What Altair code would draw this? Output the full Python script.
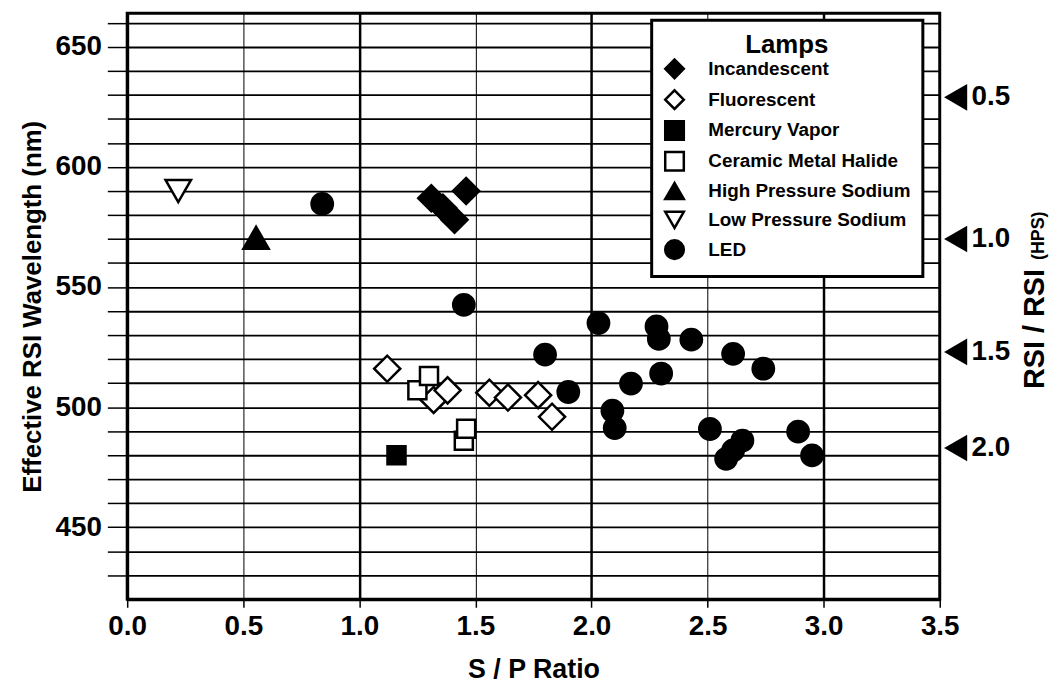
import altair as alt
import pandas as pd

FONT = "Liberation Sans"

# ---- categories and marker styles ----
lamps = ["Incandescent", "Fluorescent", "Mercury Vapor", "Ceramic Metal Halide",
         "High Pressure Sodium", "Low Pressure Sodium", "LED"]
lamp_shapes = ["diamond", "diamond", "square", "square", "triangle-up", "triangle-down", "circle"]
lamp_fills = ["black", "white", "black", "white", "black", "white", "black"]
lamp_strokes = ["black"] * 7
lamp_sizes = [690, 690, 330, 330, 650, 660, 460]

# ---- data: S/P ratio (x) and effective RSI wavelength in nm (y) ----
inc_x = [1.31, 1.36, 1.41, 1.46]
inc_y = [587, 583, 578, 590]
flu_x = [1.12, 1.32, 1.38, 1.56, 1.64, 1.77, 1.83]
flu_y = [516, 503, 507, 506, 504, 505, 496]
mv_x = [1.16]
mv_y = [480]
cmh_x = [1.25, 1.30, 1.45, 1.46]
cmh_y = [507, 513, 486, 491]
hps_x = [0.555]
hps_y = [570.5]
lps_x = [0.22]
lps_y = [590]
led_x = [0.84, 1.45, 1.80, 1.90, 2.03, 2.09, 2.10, 2.17, 2.28, 2.29,
         2.30, 2.43, 2.51, 2.58, 2.61, 2.61, 2.65, 2.74, 2.89, 2.95]
led_y = [584.6, 542.6, 521.9, 506.3, 535.0, 498.5, 491.3, 509.8, 533.6, 528.4,
         514.0, 528.1, 490.9, 478.5, 482.0, 522.2, 486.1, 516.0, 489.8, 479.9]

# right-hand RSI / RSI(HPS) scale marks (ratio label, wavelength position)
rsi_labels = ["0.5", "1.0", "1.5", "2.0"]
rsi_wavelength = [629, 570, 523, 483]

# tick labels
x_ticks = [0.0, 0.5, 1.0, 1.5, 2.0, 2.5, 3.0, 3.5]
y_ticks = list(range(430, 661, 10))

series = [(inc_x, inc_y), (flu_x, flu_y), (mv_x, mv_y), (cmh_x, cmh_y),
          (hps_x, hps_y), (lps_x, lps_y), (led_x, led_y)]
size_of = dict(zip(lamps, lamp_sizes))
rows = []
for name, (xs, ys) in zip(lamps, series):
    for xv, yv in zip(xs, ys):
        rows.append({"Lamp": name, "sp": xv, "wl": yv, "sz": size_of[name]})
df = pd.DataFrame(rows)

rsi_df = pd.DataFrame({"label": rsi_labels, "wl": rsi_wavelength})

x_scale = alt.Scale(domain=[0, 3.5], nice=False, zero=False)
y_scale = alt.Scale(domain=[420, 664], nice=False, zero=False)

x_axis = alt.Axis(
    values=x_ticks, format=".1f", title="S / P Ratio",
    labelFontSize=28, labelFontWeight="bold", labelFont=FONT, labelColor="black",
    labelFlush=False, labelPadding=5, labelOverlap=False,
    tickSize=8, tickColor="black", tickWidth=1.5,
    domainColor="black", domainWidth=3,
    grid=True, gridColor="black", gridOpacity=1,
    gridWidth={"expr": "datum.value % 1 == 0 ? 2.5 : 1"},
    titleFontSize=27, titleFont=FONT, titleFontWeight="bold", titleColor="black",
    titlePadding=17,
)
y_axis = alt.Axis(
    values=y_ticks, title="Effective RSI Wavelength (nm)",
    labelExpr="datum.value % 50 == 0 ? datum.label : ''",
    labelFontSize=28, labelFontWeight="bold", labelFont=FONT, labelColor="black",
    labelFlush=False, labelPadding=6, labelOverlap=False,
    tickSize=20, tickColor="black", tickWidth=1.5,
    domainColor="black", domainWidth=3,
    grid=True, gridColor="black", gridOpacity=1, gridWidth=1.8,
    titleFontSize=26, titleFont=FONT, titleFontWeight="bold", titleColor="black",
    titlePadding=10,
)

lamp_legend = alt.Legend(title="Lamps")

points = alt.Chart(df).mark_point(
    strokeWidth=2.5, opacity=1, fillOpacity=1
).encode(
    x=alt.X("sp:Q", scale=x_scale, axis=x_axis),
    y=alt.Y("wl:Q", scale=y_scale, axis=y_axis),
    shape=alt.Shape("Lamp:N", scale=alt.Scale(domain=lamps, range=lamp_shapes),
                    legend=lamp_legend),
    fill=alt.Fill("Lamp:N", scale=alt.Scale(domain=lamps, range=lamp_fills),
                  legend=lamp_legend),
    stroke=alt.Stroke("Lamp:N", scale=alt.Scale(domain=lamps, range=lamp_strokes),
                      legend=lamp_legend),
    size=alt.Size("sz:Q", scale=None),
)

rsi_tri = alt.Chart(rsi_df).mark_point(
    shape="triangle-left", filled=True, color="black", opacity=1, size=720, xOffset=16
).encode(
    x=alt.datum(3.5, scale=x_scale, axis=x_axis),
    y=alt.Y("wl:Q", scale=y_scale, axis=y_axis),
)

rsi_text = alt.Chart(rsi_df).mark_text(
    align="left", baseline="middle", dx=32, fontSize=28, fontWeight="bold",
    font=FONT, color="black"
).encode(
    x=alt.datum(3.5, scale=x_scale, axis=x_axis),
    y=alt.Y("wl:Q", scale=y_scale, axis=y_axis),
    text="label:N",
)

title_main = alt.Chart(pd.DataFrame({"t": ["RSI / RSI"]})).mark_text(
    angle=270, align="center", baseline="middle", fontSize=29, fontWeight="bold",
    font=FONT, color="black"
).encode(x=alt.value(914), y=alt.value(318), text="t:N")

title_sub = alt.Chart(pd.DataFrame({"t": ["(HPS)"]})).mark_text(
    angle=270, align="center", baseline="middle", fontSize=18, fontWeight="bold",
    font=FONT, color="black"
).encode(x=alt.value(918), y=alt.value(224), text="t:N")

chart = alt.layer(points, rsi_tri, rsi_text, title_main, title_sub).properties(
    width=818, height=590,
    autosize=alt.AutoSizeParams(type="none"),
    padding={"left": 120, "top": 3, "right": 110, "bottom": 84},
).configure_view(
    stroke="black", strokeWidth=3
).configure_legend(
    orient="none", legendX=528, legendY=7,
    padding=12, fillColor="white", strokeColor="black", strokeWidth=3,
    titleFontSize=26, titleFont=FONT, titleFontWeight="bold", titleColor="black",
    titleAnchor="middle", titlePadding=0, titleLimit=400,
    labelFontSize=19, labelFont=FONT, labelFontWeight="bold", labelColor="black",
    labelOffset=23, labelLimit=400, rowPadding=1, symbolSize=350,
    symbolStrokeWidth=2.5,
)

chart.save("out.html", embed_options={"renderer": "svg", "actions": False})
